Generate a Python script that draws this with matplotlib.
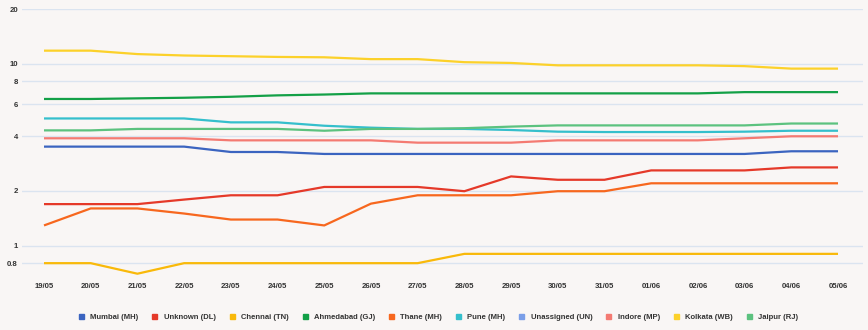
import matplotlib
matplotlib.use("Agg")
import matplotlib.pyplot as plt
import numpy as np
from matplotlib.lines import Line2D
from matplotlib.ticker import FixedLocator, FixedFormatter, NullLocator

dates = ["19/05", "20/05", "21/05", "22/05", "23/05", "24/05", "25/05", "26/05", "27/05",
         "28/05", "29/05", "30/05", "31/05", "01/06", "02/06", "03/06", "04/06", "05/06"]

mumbai     = [3.50, 3.50, 3.50, 3.50, 3.27, 3.27, 3.19, 3.19, 3.19, 3.19, 3.19, 3.19, 3.19, 3.19, 3.19, 3.19, 3.30, 3.30]
unknown    = [1.69, 1.69, 1.69, 1.79, 1.89, 1.89, 2.10, 2.10, 2.10, 1.99, 2.40, 2.30, 2.30, 2.59, 2.59, 2.59, 2.69, 2.69]
chennai    = [0.80, 0.80, 0.70, 0.80, 0.80, 0.80, 0.80, 0.80, 0.80, 0.90, 0.90, 0.90, 0.90, 0.90, 0.90, 0.90, 0.90, 0.90]
ahmedabad  = [6.40, 6.40, 6.45, 6.50, 6.58, 6.70, 6.77, 6.87, 6.87, 6.87, 6.87, 6.87, 6.87, 6.87, 6.87, 6.98, 6.98, 6.98]
thane      = [1.29, 1.60, 1.60, 1.50, 1.39, 1.39, 1.29, 1.70, 1.89, 1.89, 1.89, 1.99, 1.99, 2.20, 2.20, 2.20, 2.20, 2.20]
pune       = [5.00, 5.00, 5.00, 5.00, 4.76, 4.76, 4.56, 4.45, 4.38, 4.38, 4.32, 4.23, 4.21, 4.21, 4.21, 4.23, 4.28, 4.28]
unassigned = [None] * 18
indore     = [3.89, 3.89, 3.89, 3.89, 3.79, 3.79, 3.79, 3.79, 3.68, 3.68, 3.68, 3.79, 3.79, 3.79, 3.79, 3.89, 3.99, 3.99]
kolkata    = [11.8, 11.8, 11.3, 11.1, 11.0, 10.9, 10.85, 10.6, 10.6, 10.2, 10.1, 9.8, 9.8, 9.8, 9.8, 9.7, 9.4, 9.4]
jaipur     = [4.30, 4.30, 4.38, 4.38, 4.38, 4.38, 4.28, 4.38, 4.38, 4.42, 4.51, 4.58, 4.58, 4.58, 4.58, 4.58, 4.69, 4.69]

series_names = ["Mumbai (MH)", "Unknown (DL)", "Chennai (TN)", "Ahmedabad (GJ)", "Thane (MH)",
                "Pune (MH)", "Unassigned (UN)", "Indore (MP)", "Kolkata (WB)", "Jaipur (RJ)"]
series_values = [mumbai, unknown, chennai, ahmedabad, thane, pune, unassigned, indore, kolkata, jaipur]
colors = ["#3b64c0", "#e53929", "#f9b90a", "#13a047", "#f7671e",
          "#35bfcc", "#7a9ee8", "#f47a72", "#fcd12a", "#5cc27f"]

ytick_vals = [0.8, 1, 2, 4, 6, 8, 10, 20]
ytick_labels = ["0.8", "1", "2", "4", "6", "8", "10", "20"]

plt.rcParams["font.family"] = ["Liberation Sans", "DejaVu Sans"]

bg = "#f9f6f5"
W, H = 868, 330
fig = plt.figure(figsize=(W / 100, H / 100), dpi=100, facecolor=bg)
left, right, top, bottom = 22, 863, 9, 276
ax = fig.add_axes([left / W, 1 - bottom / H, (right - left) / W, (bottom - top) / H], facecolor=bg)

x = np.arange(len(dates))
for name, vals, c in zip(series_names, series_values, colors):
    y = np.array([np.nan if v is None else v for v in vals], dtype=float)
    ax.plot(x, y, color=c, lw=1.6, solid_joinstyle="round", solid_capstyle="butt")

ax.set_yscale("log")
ax.set_ylim(0.68, 20)
ax.set_xlim(-0.471, 17.535)
ax.yaxis.set_major_locator(FixedLocator(ytick_vals))
ax.yaxis.set_major_formatter(FixedFormatter(ytick_labels))
ax.yaxis.set_minor_locator(NullLocator())
ax.set_xticks(x)
ax.set_xticklabels(dates)
ax.grid(axis="y", color="#dbe4f0", lw=1.0)
ax.set_axisbelow(True)
for s in ax.spines.values():
    s.set_visible(False)
ax.tick_params(axis="y", length=0, pad=3, labelsize=5.6, labelcolor="#333333")
ax.tick_params(axis="x", length=0, pad=5, labelsize=5.6, labelcolor="#333333")
for lab in ax.get_xticklabels() + ax.get_yticklabels():
    lab.set_fontweight("bold")

handles = [Line2D([], [], marker="s", linestyle="none", color=c, markersize=3.6) for c in colors]
leg = fig.legend(handles, series_names, loc="center", bbox_to_anchor=(438 / W, 1 - 317 / H),
                 ncol=10, frameon=False, handlelength=0.8, handletextpad=0.8, columnspacing=1.7,
                 prop={"size": 5.5, "weight": "bold"})
for t in leg.get_texts():
    t.set_color("#333333")

fig.savefig("out.png", dpi=100, facecolor=bg)
